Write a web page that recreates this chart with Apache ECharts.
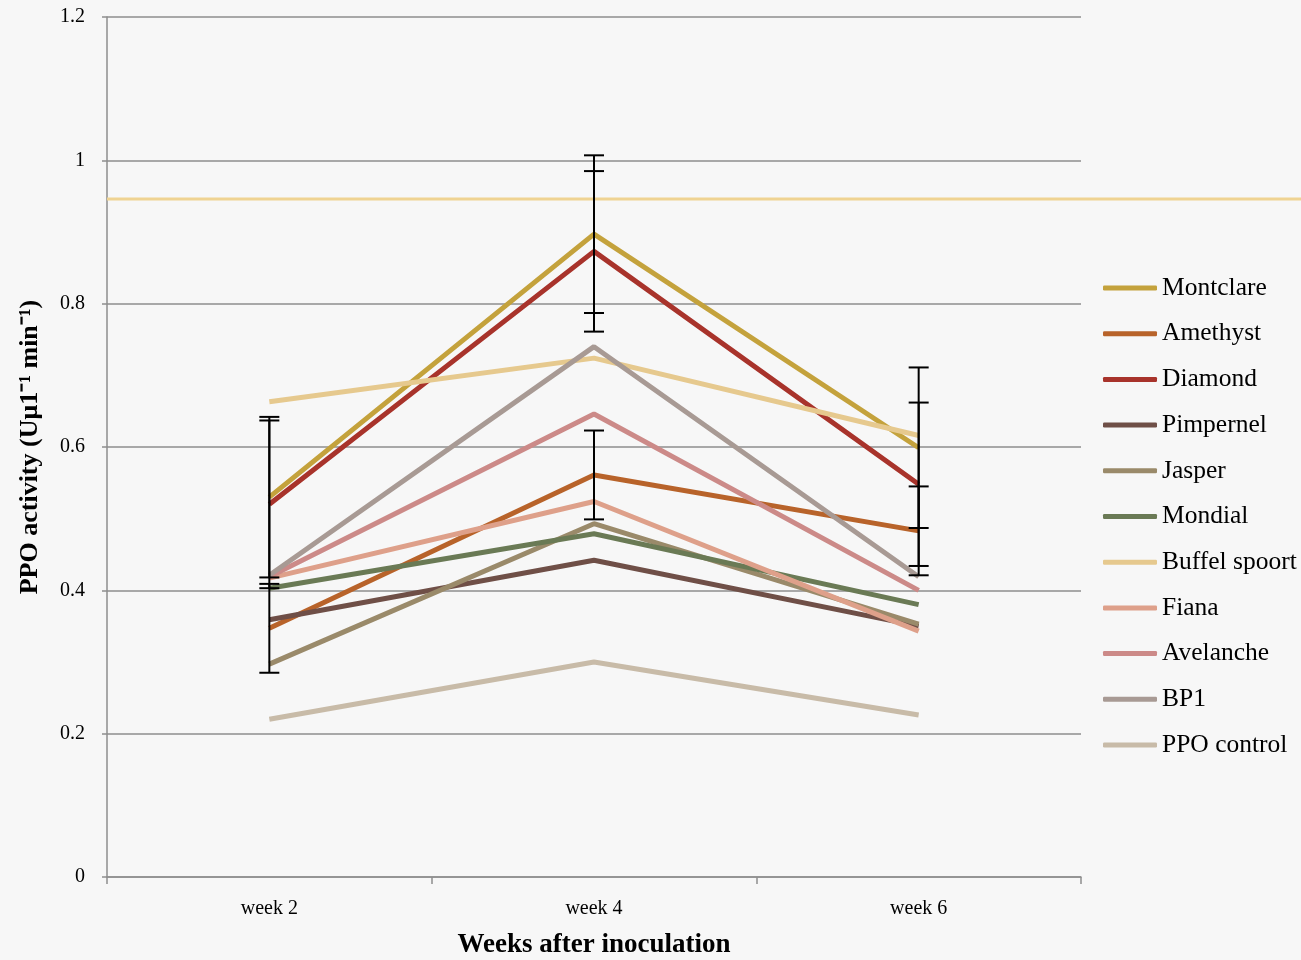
<!DOCTYPE html>
<html>
<head>
<meta charset="utf-8">
<script src="https://cdn.jsdelivr.net/npm/echarts@6/dist/echarts.min.js"></script>
<style>
html,body{margin:0;padding:0;background:#f7f7f7;}
#chart{width:1301px;height:960px;}
</style>
</head>
<body>
<div id="chart"></div>
<script>
// ---- data ----
var weeks = ['week 2', 'week 4', 'week 6'];
var seriesNames = ['Montclare', 'Amethyst', 'Diamond', 'Pimpernel', 'Jasper', 'Mondial', 'Buffel spoort', 'Fiana', 'Avelanche', 'BP1', 'PPO control'];
var montclare   = [0.530, 0.897, 0.599];
var amethyst    = [0.347, 0.561, 0.483];
var diamond     = [0.520, 0.873, 0.548];
var pimpernel   = [0.359, 0.442, 0.350];
var jasper      = [0.297, 0.493, 0.353];
var mondial     = [0.403, 0.479, 0.380];
var buffelSpoort= [0.663, 0.724, 0.616];
var fiana       = [0.417, 0.524, 0.343];
var avelanche   = [0.419, 0.646, 0.400];
var bp1         = [0.421, 0.740, 0.419];
var ppoControl  = [0.220, 0.300, 0.226];
// error bar half-widths
var montclareErr = [0.112, 0.110, 0.112];
var diamondErr   = [0.117, 0.112, 0.114];
var amethystErr  = [0.062, 0.062, 0.062];
// horizontal reference line
var refLineValue = 0.946;
var yTicks = [0, 0.2, 0.4, 0.6, 0.8, 1, 1.2];

var values = [montclare, amethyst, diamond, pimpernel, jasper, mondial, buffelSpoort, fiana, avelanche, bp1, ppoControl];
var colors = ['#c4a23c', '#b8632a', '#a8332b', '#6f4f47', '#9a8a6a', '#6a7a55', '#e6c98e', '#dea08a', '#cc8a88', '#a89a94', '#c8bba8'];

var errData = [];
[[montclare, montclareErr], [diamond, diamondErr], [amethyst, amethystErr]].forEach(function (p) {
  p[0].forEach(function (v, i) {
    errData.push([i, v - p[1][i], v + p[1][i]]);
  });
});

var font = 'Liberation Serif';
var series = seriesNames.map(function (n, k) {
  return {
    name: n, type: 'line', data: values[k], symbol: 'none',
    xAxisIndex: 0, yAxisIndex: 0,
    lineStyle: {color: colors[k], width: 5},
    itemStyle: {color: colors[k]},
    z: 2
  };
});
series.push({
  type: 'custom', name: 'err', xAxisIndex: 0, yAxisIndex: 0, z: 5, silent: true,
  data: errData,
  encode: {x: 0, y: [1, 2]},
  renderItem: function (params, api) {
    var lo = api.coord([api.value(0), api.value(1)]);
    var hi = api.coord([api.value(0), api.value(2)]);
    var w = 10;
    var st = {stroke: '#000', lineWidth: 2};
    return {type: 'group', children: [
      {type: 'line', shape: {x1: hi[0], y1: hi[1], x2: lo[0], y2: lo[1]}, style: st},
      {type: 'line', shape: {x1: hi[0] - w, y1: hi[1], x2: hi[0] + w, y2: hi[1]}, style: st},
      {type: 'line', shape: {x1: lo[0] - w, y1: lo[1], x2: lo[0] + w, y2: lo[1]}, style: st}
    ]};
  }
});
series.push({
  type: 'line', name: 'ref', xAxisIndex: 1, yAxisIndex: 1, symbol: 'none', silent: true,
  data: [[0, refLineValue], [1, refLineValue]],
  lineStyle: {color: '#efd392', width: 3}, z: 1
});

var chart = echarts.init(document.getElementById('chart'));
chart.setOption({
  backgroundColor: '#f7f7f7',
  animation: false,
  textStyle: {fontFamily: font},
  grid: [
    {left: 107, right: 220, top: 17, bottom: 83, containLabel: false, outerBoundsMode: 'none'},
    {left: 107, right: 0, top: 17, bottom: 83, containLabel: false, outerBoundsMode: 'none'}
  ],
  legend: {
    orient: 'vertical', left: 1098, top: 270,
    data: seriesNames.map(function (n) { return {name: n, icon: 'roundRect'}; }),
    itemWidth: 54, itemHeight: 5, itemGap: 19.7,
    textStyle: {fontFamily: font, fontSize: 25.5, color: '#000', lineHeight: 25}
  },
  xAxis: [{
    type: 'category', data: weeks, gridIndex: 0, boundaryGap: true,
    axisLine: {lineStyle: {color: '#8e8e8e', width: 1.5}},
    axisTick: {show: true, length: 7, alignWithLabel: false, lineStyle: {color: '#8e8e8e', width: 1.5}},
    axisLabel: {fontFamily: font, fontSize: 20, color: '#000', margin: 22},
    name: 'Weeks after inoculation', nameLocation: 'middle', nameGap: 55,
    nameTextStyle: {fontFamily: font, fontSize: 27, fontWeight: 'bold', color: '#000'}
  }, {
    type: 'value', gridIndex: 1, min: 0, max: 1, show: false
  }],
  yAxis: [{
    type: 'value', gridIndex: 0, min: yTicks[0], max: yTicks[yTicks.length - 1], interval: 0.2,
    axisLine: {show: true, lineStyle: {color: '#8e8e8e', width: 1.5}},
    axisTick: {show: true, length: 5, lineStyle: {color: '#8e8e8e', width: 1.5}},
    splitLine: {lineStyle: {color: '#8e8e8e', width: 1.5}},
    axisLabel: {fontFamily: font, fontSize: 20, color: '#000', margin: 22,
      formatter: function (v) { return String(Math.round(v * 10) / 10); }},
    name: 'PPO activity (Uμ1⁻¹ min⁻¹)', nameLocation: 'middle', nameGap: 64,
    nameTextStyle: {fontFamily: font, fontSize: 26, fontWeight: 'bold', color: '#000'}
  }, {
    type: 'value', gridIndex: 1, min: 0, max: 1.2, show: false
  }],
  series: series
});
</script>
</body>
</html>
